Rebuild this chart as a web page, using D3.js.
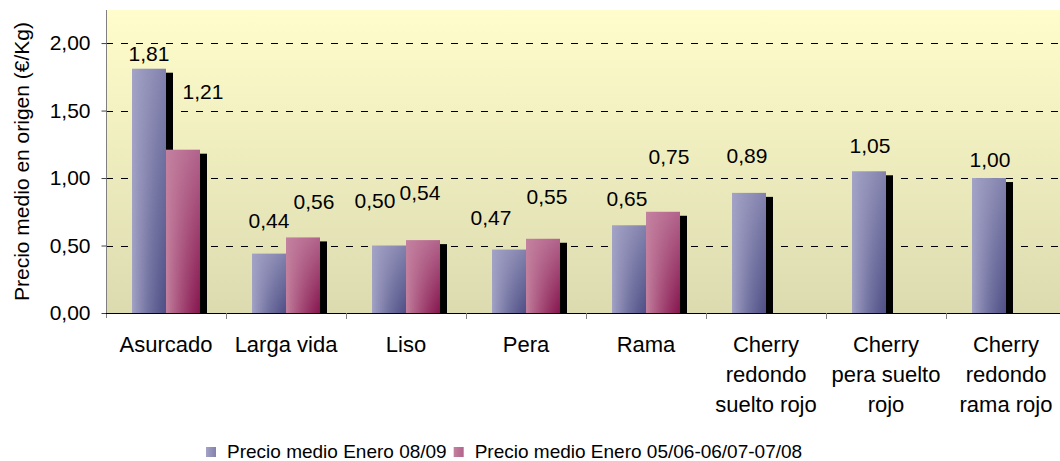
<!DOCTYPE html>
<html>
<head>
<meta charset="utf-8">
<script src="https://cdn.jsdelivr.net/npm/d3@7"></script>
<style>
  body { margin: 0; background: #fff; }
  text { font-family: "Liberation Sans", Arial, sans-serif; fill: #000; }
</style>
</head>
<body>
<div id="chart"></div>
<script>
// chart values
const categories = [
  ['Asurcado'], ['Larga vida'], ['Liso'], ['Pera'], ['Rama'],
  ['Cherry', 'redondo', 'suelto rojo'],
  ['Cherry', 'pera suelto', 'rojo'],
  ['Cherry', 'redondo', 'rama rojo']
];
const precio0809 = [1.81, 0.44, 0.50, 0.47, 0.65, 0.89, 1.05, 1.00];
const precio0508 = [1.21, 0.56, 0.54, 0.55, 0.75, null, null, null];
const seriesNames = ['Precio medio Enero 08/09', 'Precio medio Enero 05/06-06/07-07/08'];
const yTicks = [0, 0.5, 1, 1.5, 2];

// labels were hand placed in the original, so keep a small nudge per label [dx, gap above bar]
const labelNudge = [
  [[0, 8], [0, 26], [-14, 38], [-18, 25], [-2, 19], [-2, 30], [1, 18], [1, 11]],
  [[20, 51], [11, 28], [-3, 40], [4, 35], [6, 48], null, null, null]
];

const width = 1060, height = 461;
const margin = { top: 10, left: 106 };
const plotBottom = 313;
const catWidth = 120;

const svg = d3.select('#chart').append('svg')
  .attr('width', width)
  .attr('height', height);

const defs = svg.append('defs');

// plot background
const bg = defs.append('linearGradient').attr('id', 'bg')
  .attr('x1', 0).attr('y1', 0).attr('x2', 0).attr('y2', 1);
bg.append('stop').attr('offset', '0%').attr('stop-color', '#fffdcb');
bg.append('stop').attr('offset', '100%').attr('stop-color', '#dcdbb0');

// bar shading: light on the left, darker right and bottom
const palettes = [
  { light: '#a3a3c6', mid: '#8282ae', dark: '#4f4f86' },
  { light: '#c4819f', mid: '#b3648c', dark: '#86164e' }
];
palettes.forEach(function (p, i) {
  const g = defs.append('linearGradient').attr('id', 'base' + i)
    .attr('x1', 0).attr('y1', 0).attr('x2', 1).attr('y2', 0);
  g.append('stop').attr('offset', '0%').attr('stop-color', p.light);
  g.append('stop').attr('offset', '100%').attr('stop-color', p.mid);
  const o = defs.append('linearGradient').attr('id', 'over' + i)
    .attr('x1', 0).attr('y1', 0).attr('x2', 1).attr('y2', 0);
  o.append('stop').attr('offset', '0%').attr('stop-color', p.dark).attr('stop-opacity', 0);
  o.append('stop').attr('offset', '100%').attr('stop-color', p.dark).attr('stop-opacity', 1);
});
const vg = defs.append('linearGradient').attr('id', 'vgrad')
  .attr('x1', 0).attr('y1', 0).attr('x2', 0).attr('y2', 1);
vg.append('stop').attr('offset', '0%').attr('stop-color', '#000');
vg.append('stop').attr('offset', '100%').attr('stop-color', '#fff');
defs.append('mask').attr('id', 'vmask')
  .attr('maskContentUnits', 'objectBoundingBox')
  .append('rect').attr('width', 1).attr('height', 1).attr('fill', 'url(#vgrad)');

// scales
const x = d3.scaleBand()
  .domain(d3.range(categories.length))
  .range([margin.left, margin.left + catWidth * categories.length]);
const xInner = d3.scaleBand().domain([0, 1]).range([26, 94]);
const y = d3.scaleLinear().domain([0, 2.245]).range([plotBottom, margin.top]);

svg.append('rect')
  .attr('x', margin.left).attr('y', margin.top)
  .attr('width', width - margin.left).attr('height', plotBottom - margin.top)
  .attr('fill', 'url(#bg)');

// dashed grid
svg.append('g').selectAll('line')
  .data(yTicks.slice(1))
  .join('line')
  .attr('x1', margin.left).attr('x2', width)
  .attr('y1', d => Math.round(y(d)) + 0.5).attr('y2', d => Math.round(y(d)) + 0.5)
  .attr('stroke', '#000')
  .attr('stroke-dasharray', '7,8');

// bars
const series = [precio0809, precio0508];
series.forEach(function (values, s) {
  const g = svg.append('g');
  values.forEach(function (v, i) {
    if (v == null) return;
    const bx = x(i) + xInner(s);
    const by = y(v);
    const bw = xInner.bandwidth();
    const bh = plotBottom - by;
    g.append('rect')
      .attr('x', bx + 7).attr('y', by + 4)
      .attr('width', bw).attr('height', Math.max(0, bh - 4))
      .attr('fill', '#000');
    g.append('rect')
      .attr('x', bx).attr('y', by).attr('width', bw).attr('height', bh)
      .attr('fill', 'url(#base' + s + ')');
    g.append('rect')
      .attr('x', bx).attr('y', by).attr('width', bw).attr('height', bh)
      .attr('fill', 'url(#over' + s + ')')
      .attr('mask', 'url(#vmask)');
  });
});

// value labels
series.forEach(function (values, s) {
  values.forEach(function (v, i) {
    if (v == null) return;
    const nudge = labelNudge[s][i];
    svg.append('text')
      .attr('x', x(i) + xInner(s) + xInner.bandwidth() / 2 + nudge[0])
      .attr('y', y(v) - nudge[1])
      .attr('text-anchor', 'middle')
      .attr('font-size', '21px')
      .text(d3.format('.2f')(v).replace('.', ','));
  });
});

// y axis
const yAxis = d3.axisLeft(y)
  .tickValues(yTicks)
  .tickSize(5)
  .tickPadding(11)
  .tickFormat(d => d3.format('.2f')(d).replace('.', ','));
const yg = svg.append('g')
  .attr('transform', 'translate(' + (margin.left + 0.5) + ',0)')
  .call(yAxis);
yg.select('.domain').attr('stroke', '#808080')
  .attr('d', 'M0,' + margin.top + 'V' + (plotBottom + 5));
yg.selectAll('.tick line').attr('stroke', '#404040');
yg.selectAll('.tick text')
  .attr('font-size', '21px')
  .attr('font-family', '"Liberation Sans", Arial, sans-serif')
  .attr('fill', '#000');

// x axis line and category tick marks
svg.append('line')
  .attr('x1', margin.left).attr('x2', width)
  .attr('y1', plotBottom + 0.5).attr('y2', plotBottom + 0.5)
  .attr('stroke', '#000');
svg.append('g').selectAll('line')
  .data(d3.range(1, categories.length))
  .join('line')
  .attr('x1', d => x(d) + 0.5).attr('x2', d => x(d) + 0.5)
  .attr('y1', plotBottom).attr('y2', plotBottom + 6)
  .attr('stroke', '#808080');

// category labels
const cat = svg.append('g').selectAll('text')
  .data(categories)
  .join('text')
  .attr('text-anchor', 'middle')
  .attr('font-size', '22px');
cat.selectAll('tspan')
  .data((d, i) => d.map(line => ({ line: line, i: i })))
  .join('tspan')
  .attr('x', d => x(d.i) + x.bandwidth() / 2)
  .attr('y', (d, j) => 352 + j * 30)
  .text(d => d.line);

// y axis title
svg.append('text')
  .attr('transform', 'translate(29,' + ((margin.top + plotBottom) / 2) + ') rotate(-90)')
  .attr('text-anchor', 'middle')
  .attr('font-size', '21px')
  .text('Precio medio en origen (€/Kg)');

// legend
const legend = svg.append('g');
let lx = 206;
seriesNames.forEach(function (name, s) {
  legend.append('rect')
    .attr('x', lx).attr('y', 447).attr('width', 10).attr('height', 10)
    .attr('fill', 'url(#base' + s + ')');
  const t = legend.append('text')
    .attr('x', lx + 21).attr('y', 458)
    .attr('font-size', '19px')
    .text(name);
  lx += 21 + t.node().getComputedTextLength() + 7;
});
</script>
</body>
</html>
